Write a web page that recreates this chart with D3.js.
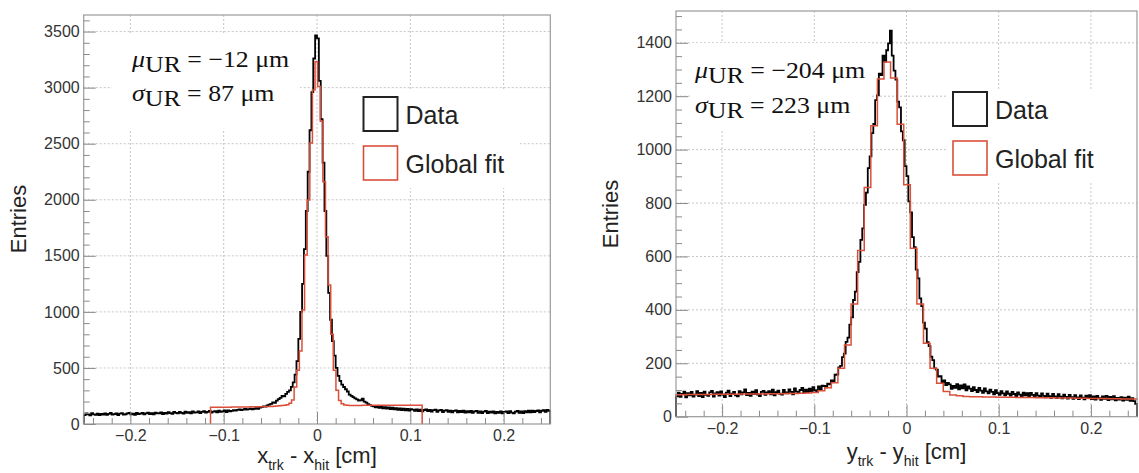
<!DOCTYPE html>
<html><head><meta charset="utf-8">
<script src="https://cdn.jsdelivr.net/npm/d3@7"></script>
<style>body{margin:0;background:#fff;}svg{display:block;}</style>
</head><body>
<svg id="c" width="1139" height="473"></svg>
<script>
// ---------------- data ----------------
const xTickValues = [-0.2, -0.1, 0, 0.1, 0.2];
const xTickLabels = ["\u22120.2", "\u22120.1", "0", "0.1", "0.2"];
const xMinorTicks = [-0.24,-0.22,-0.18,-0.16,-0.14,-0.12,-0.08,-0.06,-0.04,-0.02,0.02,0.04,0.06,0.08,0.12,0.14,0.16,0.18,0.22,0.24];

const leftYTicks = [0, 500, 1000, 1500, 2000, 2500, 3000, 3500];
const rightYTicks = [0, 200, 400, 600, 800, 1000, 1200, 1400];

// data histograms: bins of 0.002 cm starting at -0.25 cm
const dataBinStart = -0.25;
const dataBinWidth = 0.002;

const xResidualCounts = [
  80, 94, 86, 77, 96, 85, 82, 93, 79, 90,
  84, 95, 81, 90, 98, 83, 88, 94, 80, 92,
  96, 84, 87, 95, 99, 85, 93, 82, 98, 88,
  92, 100, 86, 95, 102, 88, 97, 85, 101, 94,
  96, 104, 89, 100, 93, 106, 97, 90, 107, 99,
  95, 108, 100, 92, 110, 99, 105, 96, 112, 101,
  104, 113, 98, 108, 115, 101, 109, 117, 102, 111,
  114, 104, 119, 108, 113, 121, 107, 122, 112, 117,
  124, 119, 126, 130, 124, 129, 135, 128, 133, 138,
  130, 136, 141, 135, 146, 151, 158, 155, 166, 172,
  180, 192, 188, 208, 222, 233, 250, 246, 268, 286,
  300, 332, 372, 440, 560, 760, 1000, 1250, 1560, 1900,
  2250, 2620, 2960, 3260, 3465, 3440, 3060, 2720, 2330, 1900,
  1500, 1170, 930, 740, 610, 500, 430, 385, 352, 330,
  310, 290, 262, 250, 240, 228, 220, 208, 212, 225,
  200, 190, 176, 168, 162, 158, 148, 160, 143, 155,
  140, 151, 137, 148, 134, 145, 131, 142, 127, 139,
  125, 137, 122, 135, 120, 133, 128, 117, 131, 115,
  127, 113, 125, 130, 114, 126, 110, 123, 128, 108,
  121, 126, 106, 119, 124, 108, 120, 104, 117, 122,
  103, 117, 106, 120, 101, 114, 104, 116, 99, 112,
  117, 100, 113, 98, 110, 116, 97, 111, 101, 113,
  95, 109, 99, 112, 96, 108, 113, 97, 114, 102,
  94, 110, 116, 100, 113, 98, 115, 103, 118, 105,
  120, 106, 116, 122, 104, 118, 123, 109, 125, 118
];

const yResidualCounts = [
  76, 90, 74, 85, 94, 72, 88, 80, 93, 75,
  83, 96, 77, 89, 73, 94, 82, 78, 91, 97,
  75, 87, 92, 79, 95, 83, 73, 90, 98, 77,
  86, 93, 80, 76, 96, 84, 91, 102, 81, 89,
  78, 94, 85, 99, 83, 77, 93, 97, 82, 91,
  96, 84, 101, 80, 92, 98, 86, 83, 100, 91,
  87, 102, 93, 84, 106, 94, 88, 100, 108, 90,
  101, 92, 105, 96, 111, 99, 93, 113, 102, 116,
  115, 110, 124, 121, 136, 133, 157, 158, 185, 190,
  223, 236, 280, 296, 345, 372, 437, 468, 541, 580,
  662, 705, 793, 839, 931, 975, 1062, 1096, 1185, 1203,
  1284, 1279, 1352, 1330, 1372, 1398, 1445, 1352, 1296, 1262,
  1180, 1158, 1068, 1035, 938, 901, 806, 765, 672, 635,
  551, 518, 443, 414, 352, 330, 279, 264, 225, 212,
  181, 176, 150, 152, 130, 136, 118, 127, 121, 104,
  115, 108, 122, 102, 117, 106, 121, 99, 113, 105,
  96, 111, 100, 92, 108, 98, 89, 106, 95, 87,
  101, 93, 84, 99, 88, 82, 96, 87, 80, 95,
  86, 79, 93, 85, 77, 91, 83, 75, 90, 80,
  88, 77, 89, 82, 74, 88, 79, 73, 87, 78,
  72, 86, 77, 71, 85, 76, 70, 84, 75, 69,
  83, 74, 68, 82, 73, 67, 81, 72, 66, 80,
  71, 65, 79, 70, 81, 66, 76, 64, 78, 69,
  63, 76, 67, 78, 62, 74, 65, 77, 61, 70,
  64, 73, 60, 71, 63, 75, 59, 69, 58, 48
];

// global-fit histograms
const xFitStart = -0.1141;
const xFitWidth = 0.0028;
const xFitCounts = [
  149, 149, 149, 150, 150, 150, 150, 150, 151, 151,
  151, 151, 152, 152, 152, 153, 153, 153, 154, 154,
  155, 155, 156, 157, 158, 160, 162, 165, 168, 172,
  185, 215, 330, 480, 650, 1017, 1508, 1998, 2506, 2980,
  3232,
  3010, 2700, 2160, 1670, 1240, 800, 480, 300, 210, 180,
  170, 167, 166, 166, 166, 166, 166, 167, 167, 167,
  167, 167, 167, 167, 167, 168, 168, 168, 168, 168,
  168, 168, 168, 168, 168, 168, 168, 168, 168, 168
];

const yFitStart = -0.2529;
const yFitWidth = 0.00714;
const yFitCounts = [
  82, 82, 83, 83, 83, 83, 84, 84, 84, 84,
  85, 85, 85, 85, 86, 86, 86, 87, 87, 88,
  89, 91, 97, 108, 127, 181, 268, 422, 622, 858,
  1089, 1264, 1328, 1268, 1095, 868, 631, 422, 275, 181,
  125, 94, 81, 78, 76, 75, 75, 74, 74, 73,
  73, 73, 72, 72, 72, 71, 71, 71, 70, 70,
  70, 69, 69, 68, 68, 68, 67, 67, 66, 66, 66
];

const legendLabels = ["Data", "Global fit"];

// ---------------- drawing ----------------
const svg = d3.select("#c");
const SANS = "'Liberation Sans', Arial, Helvetica, sans-serif";
const SERIF = "'Liberation Serif', 'Times New Roman', serif";
const RED = "#db4f3a";

function stepPoints(start, width, counts) {
  const pts = [[start, 0]];
  counts.forEach((c, i) => {
    pts.push([start + i * width, c]);
    pts.push([start + (i + 1) * width, c]);
  });
  pts.push([start + counts.length * width, 0]);
  return pts;
}

function drawPanel(cfg, id) {
  const x = d3.scaleLinear().domain([-0.25, 0.25]).range([cfg.left, cfg.right]);
  const y = d3.scaleLinear().domain([0, cfg.yMax]).range([cfg.bottom, cfg.top]);
  const g = svg.append("g");

  // grid
  g.selectAll(null).data(xTickValues).join("line")
    .attr("x1", d => x(d)).attr("x2", d => x(d))
    .attr("y1", cfg.top).attr("y2", cfg.bottom)
    .attr("stroke", "#c6c6c6").attr("stroke-width", 1).attr("stroke-dasharray", "2,2");
  g.selectAll(null).data(cfg.yTicks.filter(v => v > 0)).join("line")
    .attr("x1", cfg.left).attr("x2", cfg.right)
    .attr("y1", d => y(d)).attr("y2", d => y(d))
    .attr("stroke", "#c6c6c6").attr("stroke-width", 1).attr("stroke-dasharray", "2,2");

  // white boxes behind text blocks
  cfg.boxes.forEach(b => {
    g.append("rect").attr("x", b[0]).attr("y", b[1]).attr("width", b[2]).attr("height", b[3]).attr("fill", "#fff");
  });

  // clip
  svg.append("clipPath").attr("id", "clip" + id).append("rect")
    .attr("x", cfg.left - 1).attr("y", cfg.top).attr("width", cfg.right - cfg.left + 2).attr("height", cfg.bottom - cfg.top + 1);

  const line = d3.line().x(d => x(d[0])).y(d => y(d[1]));
  const hg = g.append("g").attr("clip-path", `url(#clip${id})`);
  hg.append("path").attr("d", line(stepPoints(dataBinStart, dataBinWidth, cfg.data)))
    .attr("fill", "none").attr("stroke", "#000").attr("stroke-width", 1.8).attr("stroke-linejoin", "miter");
  hg.append("path").attr("d", line(stepPoints(cfg.fitStart, cfg.fitWidth, cfg.fit)))
    .attr("fill", "none").attr("stroke", RED).attr("stroke-width", 1.5);

  // frame
  g.append("rect").attr("x", cfg.left).attr("y", cfg.top)
    .attr("width", cfg.right - cfg.left).attr("height", cfg.bottom - cfg.top)
    .attr("fill", "none").attr("stroke", "#9a9a9a").attr("stroke-width", 1.2);

  // axes (ticks inward)
  const styleAxis = sel => {
    sel.select(".domain").remove();
    sel.selectAll("line").attr("stroke", "#8a8a8a");
    sel.selectAll("text").attr("font-family", SANS).attr("font-size", 16).attr("fill", "#333");
  };
  g.append("g").attr("transform", `translate(0,${cfg.bottom})`)
    .call(d3.axisBottom(x).tickValues(xTickValues).tickSize(-12).tickPadding(6)
      .tickFormat((d, i) => xTickLabels[i]))
    .call(styleAxis);
  g.append("g").attr("transform", `translate(0,${cfg.bottom})`)
    .call(d3.axisBottom(x).tickValues(xMinorTicks).tickSize(-6).tickFormat(""))
    .call(styleAxis);
  g.append("g").attr("transform", `translate(${cfg.left},0)`)
    .call(d3.axisLeft(y).tickValues(cfg.yTicks).tickSize(-12).tickPadding(4).tickFormat(d3.format("d")))
    .call(styleAxis);
  g.append("g").attr("transform", `translate(${cfg.left},0)`)
    .call(d3.axisLeft(y).tickValues(cfg.yMinor.filter(v => !cfg.yTicks.includes(v))).tickSize(-6).tickFormat(""))
    .call(styleAxis);

  // y title
  g.append("text").attr("transform", `translate(${cfg.yTitleX},${cfg.yTitleY}) rotate(-90)`)
    .attr("text-anchor", "middle").attr("font-family", SANS).attr("font-size", 22).attr("fill", "#222")
    .text("Entries");

  // x title
  const xt = g.append("text").attr("x", x(0)).attr("y", cfg.xTitleY)
    .attr("text-anchor", "middle").attr("font-family", SANS).attr("font-size", 22).attr("fill", "#222");
  xt.append("tspan").text(cfg.axisVar);
  xt.append("tspan").attr("font-size", 14).attr("dy", 7).text("trk");
  xt.append("tspan").attr("dy", -7).text(" - " + cfg.axisVar);
  xt.append("tspan").attr("font-size", 14).attr("dy", 7).text("hit");
  xt.append("tspan").attr("dy", -7).text(" [cm]");

  // annotation
  const lines = [["\u03BC", cfg.mu], ["\u03C3", cfg.sigma]];
  lines.forEach((l, i) => {
    const t = g.append("text")
      .attr("transform", `translate(${cfg.annX},${cfg.annY[i]}) scale(1.1,1)`)
      .attr("font-family", SERIF).attr("font-size", 23.5).attr("fill", "#111");
    t.append("tspan").attr("font-style", "italic").text(l[0]);
    t.append("tspan").attr("dy", 5).text("UR");
    t.append("tspan").attr("dy", -5).text(" = " + l[1] + " \u03BCm");
  });

  // legend
  const colors = ["#222", RED];
  legendLabels.forEach((lab, i) => {
    g.append("rect").attr("x", cfg.legX).attr("y", cfg.legY[i]).attr("width", 34).attr("height", 34)
      .attr("fill", "none").attr("stroke", colors[i]).attr("stroke-width", i === 0 ? 2 : 1.6);
    g.append("text").attr("x", cfg.legX + 42).attr("y", cfg.legY[i] + 27)
      .attr("font-family", SANS).attr("font-size", 25).attr("fill", "#222").text(lab);
  });
}

drawPanel({
  left: 83.7, right: 550.3, top: 15, bottom: 424, yMax: 3648,
  yTicks: leftYTicks, yMinor: d3.range(0, 3700, 100),
  data: xResidualCounts, fit: xFitCounts, fitStart: xFitStart, fitWidth: xFitWidth,
  boxes: [[112, 35, 188, 95], [356, 90, 164, 98]],
  yTitleX: 26, yTitleY: 219, xTitleY: 463, axisVar: "x",
  annX: 132, annY: [66.7, 101], mu: "\u221212", sigma: "87",
  legX: 363.5, legY: [97, 146]
}, 1);

drawPanel({
  left: 676, right: 1137, top: 11, bottom: 416.7, yMax: 1519,
  yTicks: rightYTicks, yMinor: d3.range(0, 1520, 50),
  data: yResidualCounts, fit: yFitCounts, fitStart: yFitStart, fitWidth: yFitWidth,
  boxes: [[690, 43, 180, 87], [947, 90, 190, 92]],
  yTitleX: 618, yTitleY: 214, xTitleY: 459, axisVar: "y",
  annX: 695, annY: [78.3, 112.7], mu: "\u2212204", sigma: "223",
  legX: 953, legY: [92, 141]
}, 2);
</script>
</body></html>
